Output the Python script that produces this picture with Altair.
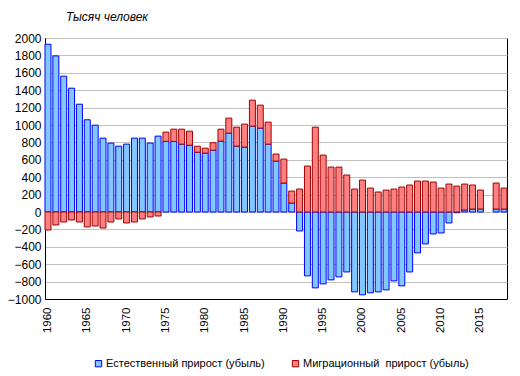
import altair as alt
import pandas as pd

years = list(range(1960, 2019))
natural = [1928, 1794, 1561, 1423, 1239, 1060, 998, 849, 792, 757,
           780, 849, 849, 792, 872, 811, 811, 780, 767, 687,
           677, 711, 815, 906, 757, 746, 987, 964, 780, 585,
           333, 103, -218, -734, -872, -826, -780, -746, -689, -918,
           -952, -929, -918, -895, -792, -849, -689, -470, -367, -252,
           -241, -126, -8, 23, 34, 34, None, 34, 34]
migration = [-207, -149, -115, -92, -115, -172, -161, -184, -115, -80,
             -126, -115, -80, -57, -46, 107, 141, 172, 162, 69,
             57, 85, 137, 173, 218, 264, 298, 264, 253, 81,
             275, 138, 264, 528, 975, 654, 516, 516, 425, 264,
             367, 275, 230, 252, 264, 287, 310, 356, 356, 344,
             275, 321, 298, 298, 276, 218, None, 299, 241]

S1 = "Естественный прирост (убыль)"
S2 = "Миграционный\u00a0 прирост (убыль)"

rows = []
for y, n, m in zip(years, natural, migration):
    if n is not None:
        rows.append({"year": str(y), "series": S1, "value": n, "ord": 0})
    if m is not None:
        rows.append({"year": str(y), "series": S2, "value": m, "ord": 1})
df = pd.DataFrame(rows)

FONT = "Liberation Sans"

chart = alt.Chart(df).mark_bar(strokeWidth=1).encode(
    x=alt.X("year:O", scale=alt.Scale(domain=[str(y) for y in years], paddingInner=0.24, paddingOuter=0),
            axis=alt.Axis(title=None, labelAngle=-90, labelFontSize=11.5, labelFont=FONT,
                          labelColor="black", ticks=False, domainColor="black",
                          labelExpr="toNumber(datum.value) % 5 == 0 ? datum.value : ''",
                          labelPadding=8, labelOverlap=False)),
    y=alt.Y("value:Q", stack="zero",
            scale=alt.Scale(domain=[-1000, 2000], nice=False),
            axis=alt.Axis(title=None, values=list(range(-1000, 2001, 200)), format="d",
                          labelFontSize=12, labelFont=FONT, labelColor="black", ticks=False,
                          domainColor="black", gridColor="#C0C0C0", labelPadding=4)),
    color=alt.Color("series:N", scale=alt.Scale(domain=[S1, S2], range=["#80C8FF", "#FF8080"]),
                    legend=alt.Legend(title=None, orient="none", direction="horizontal",
                                      legendX=48, legendY=320, symbolType="square", symbolSize=40,
                                      symbolStrokeWidth=1, labelFontSize=11, labelFont=FONT,
                                      labelColor="black", columnPadding=25, labelOffset=2,
                                      labelLimit=300)),
    stroke=alt.Stroke("series:N", scale=alt.Scale(domain=[S1, S2], range=["#0000FF", "#A00000"]),
                      legend=None),
    order=alt.Order("ord:Q"),
).properties(
    width=462, height=261,
    autosize=alt.AutoSizeParams(type="none"),
    padding={"left": 37, "top": 30, "right": 5, "bottom": 70},
    title=alt.TitleParams("Тысяч человек", anchor="start", frame="group", fontStyle="italic",
                          fontWeight="normal", fontSize=12, font=FONT, color="black",
                          dx=21, offset=8),
).configure_view(stroke="black", strokeWidth=1).configure_axis(domainWidth=1)

chart.save("out.html", embed_options={"renderer": "svg", "actions": False})
